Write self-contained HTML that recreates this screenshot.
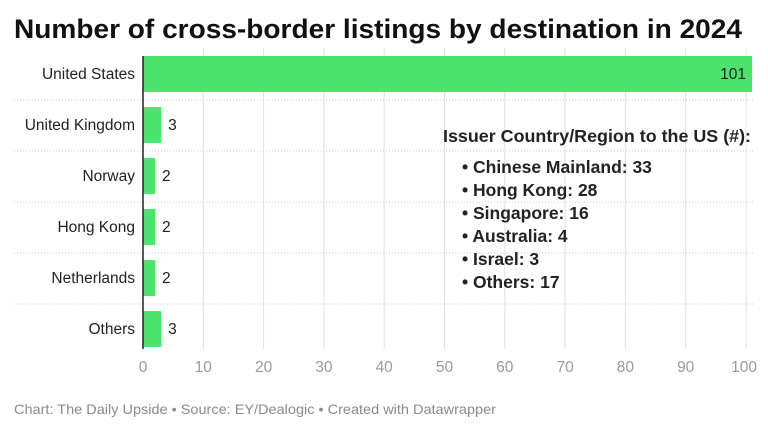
<!DOCTYPE html>
<html><head><meta charset="utf-8"><style>
body{margin:0;width:768px;height:427px;background:#fff;overflow:hidden;font-family:"Liberation Sans",sans-serif;}
svg text{font-family:"Liberation Sans",sans-serif;}
</style></head><body>
<svg width="768" height="427">
<text x="14" y="38" font-size="27" font-weight="bold" fill="#111" textLength="728" lengthAdjust="spacingAndGlyphs">Number of cross-border listings by destination in 2024</text>
<g id="grid"></g><g id="bars"></g>
<g font-size="17.5" font-weight="bold" fill="#222">
<text x="443" y="142" textLength="308" lengthAdjust="spacingAndGlyphs">Issuer Country/Region to the US (#):</text>
<text x="462" y="173">• Chinese Mainland: 33</text>
<text x="462" y="196">• Hong Kong: 28</text>
<text x="462" y="219">• Singapore: 16</text>
<text x="462" y="242">• Australia: 4</text>
<text x="462" y="265">• Israel: 3</text>
<text x="462" y="288">• Others: 17</text>
</g>
<text x="14" y="414" font-size="14" fill="#8a8a8a" textLength="482" lengthAdjust="spacingAndGlyphs">Chart: The Daily Upside • Source: EY/Dealogic • Created with Datawrapper</text>
</svg>
<script>
const categories=["United States","United Kingdom","Norway","Hong Kong","Netherlands","Others"];
const values=[101,3,2,2,2,3];
const ticks=[0,10,20,30,40,50,60,70,80,90,100];
const NS="http://www.w3.org/2000/svg";
const x=v=>143+v*6.03;
const rowY=i=>56+i*51;
const bh=36;
function mk(t,a,p){const e=document.createElementNS(NS,t);for(const k in a)e.setAttribute(k,a[k]);p.appendChild(e);return e;}
const g=document.getElementById('grid'),b=document.getElementById('bars');
ticks.forEach((t,j)=>{
 if(t>0){const l=mk('line',{x1:x(t),x2:x(t),y1:48,y2:349,stroke:'#e0e0e0','stroke-width':1},g);
 
 }
 const last=j===ticks.length-1;
 const tx=mk('text',{x:last?x(t)+11:x(t),y:372,'text-anchor':last?'end':'middle','font-size':15.5,fill:'#9a9a9a'},g);tx.textContent=t;
 
 
});
categories.forEach((c,i)=>{
 const y=rowY(i);
 if(i>0){const s=mk('line',{x1:14,x2:754,y1:y-7,y2:y-7,stroke:'#ccc','stroke-dasharray':'1 2'},g);
 
 }
 const l=mk('text',{x:135,y:y+bh/2+5,'text-anchor':'end','font-size':15.5,fill:'#222'},b);l.textContent=c;
 
 
 const r=mk('rect',{x:x(0),y:y,width:x(values[i])-x(0),height:bh,fill:'#4de46e'},b);
 
 
 const inside=values[i]>50;
 const v=mk('text',{x:inside?x(values[i])-6:x(values[i])+7,y:y+bh/2+5,'text-anchor':inside?'end':'start','font-size':15.5,fill:'#222'},b);v.textContent=values[i];
 
 
});
const ax=mk('line',{x1:x(0),x2:x(0),y1:56,y2:349,stroke:'#222','stroke-width':1.5},b);


</script>
</body></html>
